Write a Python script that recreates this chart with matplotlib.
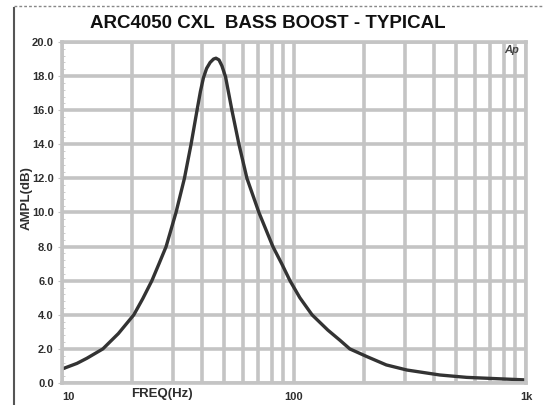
import matplotlib
matplotlib.use("Agg")
import matplotlib.pyplot as plt
from matplotlib.ticker import FixedLocator, NullFormatter, MultipleLocator
from matplotlib.lines import Line2D

# ---- data ----
freq_hz = [10, 11.6, 12.8, 15.0, 17.5, 20.4, 22.3, 24.4, 26.2, 28.1, 31.0,
           33.7, 36.0, 38.2, 39.5, 40.7, 42.0, 43.5, 45.0, 46.1, 47.5, 48.9,
           50.7, 54.0, 57.9, 62.7, 70.6, 81.1, 88.5, 96.1, 106, 119.6, 140,
           158, 174, 206, 250, 307, 425, 555, 700, 1000]
ampl_db = [0.82, 1.15, 1.45, 2.0, 2.9, 4.0, 4.95, 6.0, 7.0, 8.0, 10.0,
           12.0, 14.0, 16.0, 17.1, 17.9, 18.45, 18.8, 19.0, 19.05, 18.95, 18.6,
           17.95, 16.0, 14.0, 12.0, 10.0, 8.0, 7.0, 6.0, 5.0, 4.0, 3.1,
           2.5, 2.0, 1.55, 1.06, 0.76, 0.47, 0.33, 0.27, 0.18]
y_ticks = [0, 2, 4, 6, 8, 10, 12, 14, 16, 18, 20]
y_tick_labels = ["0.0", "2.0", "4.0", "6.0", "8.0", "10.0", "12.0", "14.0", "16.0", "18.0", "20.0"]
x_ticks = [10, 100, 1000]
x_tick_labels = ["10", "100", "1k"]
title = "ARC4050 CXL  BASS BOOST - TYPICAL"

plt.rcParams['font.family'] = ['Liberation Sans', 'DejaVu Sans']

fig = plt.figure(figsize=(5.44, 4.05), dpi=100)
ax = fig.add_axes([62/544, 1-383/405, (526-62)/544, (383-42)/405])

grid_c = "#c4c4c4"
txt_c = "#2e2e2e"
ax.set_xscale("log")
ax.set_xlim(10, 1000)
ax.set_ylim(0, 20)

# grid lines: every 1-2-...-9 step per decade and every 2 dB
minor_x = [m * d for d in (10, 100) for m in range(1, 10)] + [1000]
ax.xaxis.set_major_locator(FixedLocator(minor_x))
ax.xaxis.set_major_formatter(NullFormatter())
ax.xaxis.set_minor_locator(FixedLocator([]))
ax.yaxis.set_major_locator(FixedLocator(y_ticks))
ax.yaxis.set_minor_locator(MultipleLocator(0.4))
ax.set_yticklabels(y_tick_labels)
ax.grid(True, which="major", color=grid_c, lw=2.6)
ax.set_axisbelow(True)

for s in ax.spines.values():
    s.set_color(grid_c)
    s.set_linewidth(2.6)

ax.tick_params(axis="y", which="major", length=3, color=grid_c, labelsize=8,
               pad=3, direction="out")
ax.tick_params(axis="y", which="minor", length=2, color=grid_c, direction="in")
ax.tick_params(axis="x", which="both", length=0)
for lbl in ax.get_yticklabels():
    lbl.set_fontweight("bold")
    lbl.set_color(txt_c)

ax.plot(freq_hz, ampl_db, color="#333333", lw=2.4, solid_capstyle="round",
        solid_joinstyle="round")

# x tick labels placed under the axis
for xv, lab in zip(x_ticks, x_tick_labels):
    ax.text(xv, -0.55, lab, transform=ax.transData,
            ha="left" if xv == 10 else "center",
            va="top", fontsize=8, fontweight="bold", color=txt_c, clip_on=False)

fig.text(162/544, 1-394/405, "FREQ(Hz)", ha="center", va="center",
         fontsize=9.5, fontweight="bold", color=txt_c)
fig.text(27/544, 1-198/405, "AMPL(dB)", ha="center", va="center", rotation=90,
         fontsize=9.5, fontweight="bold", color=txt_c)

fig.text(268/544, 1-24/405, title, ha="center", va="center",
         fontsize=13.5, fontweight="bold", color="#111111")

ax.text(0.985, 0.99, "Ap", transform=ax.transAxes, ha="right", va="top",
        fontsize=8, style="italic", fontweight="bold", color="#444444")

# outer frame of scanned sheet
fig.add_artist(Line2D([14/544, 14/544], [0, 1-8/405], transform=fig.transFigure,
                      color="#555555", lw=1.5))
fig.add_artist(Line2D([14/544, 1], [1-6/405, 1-6/405], transform=fig.transFigure,
                      color="#888888", lw=1.0, ls=(0, (2, 1.5))))

fig.savefig("out.png", dpi=100)
